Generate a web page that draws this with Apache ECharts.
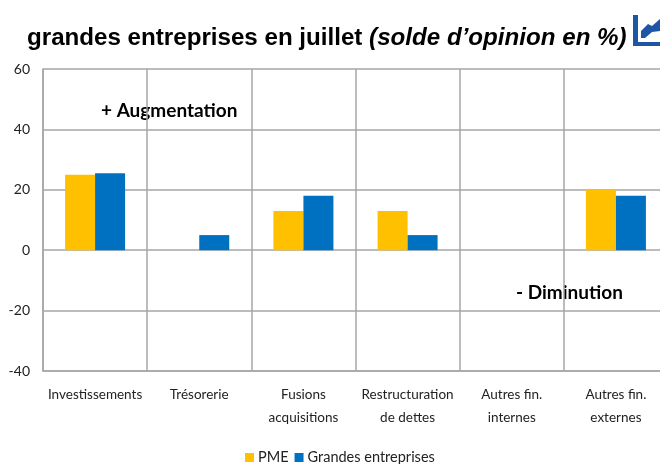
<!DOCTYPE html>
<html>
<head>
<meta charset="utf-8">
<style>html,body{margin:0;padding:0;background:#fff}#chart{width:660px;height:464px}</style>
<script src="https://cdn.jsdelivr.net/npm/echarts@6/dist/echarts.min.js"></script>
</head>
<body>
<div id="chart"></div>
<script>
// categories, series values, tick labels
var categories = ['Investissements', 'Trésorerie', 'Fusions\nacquisitions', 'Restructuration\nde dettes', 'Autres fin.\ninternes', 'Autres fin.\nexternes']
var pme = [25, 0, 13, 13, 0, 20]
var grandes = [25.5, 5, 18, 5, 0, 18]
var yTicks = [-40, -20, 0, 20, 40, 60]

var labelFont = 'Lato, sans-serif'
var gridLine = '#a6a6a6'
var iconBlue = '#1f55a5'

var chart = echarts.init(document.getElementById('chart'), null, { renderer: 'canvas' })

chart.setOption({
  animation: false,
  title: {
    text: 'grandes entreprises en juillet {i|(solde d’opinion en %)}',
    left: 22,
    top: 21,
    textStyle: {
      fontFamily: '"Liberation Sans"',
      fontSize: 24.15,
      fontWeight: 'bold',
      color: '#000',
      rich: { i: { fontFamily: '"Liberation Sans"', fontSize: 24.15, fontWeight: 'bold', fontStyle: 'italic', color: '#000' } }
    }
  },
  legend: {
    left: 240,
    top: 445,
    itemWidth: 9,
    itemHeight: 9,
    itemGap: 6,
    icon: 'rect',
    textStyle: { fontFamily: labelFont, fontSize: 14.5, color: '#222', padding: [0, 0, 0, -1] },
    data: ['PME', 'Grandes entreprises']
  },
  // last column runs past the right edge of the page, as in the reference
  grid: { left: 43, top: 69, width: 625, height: 302, outerBoundsMode: 'none' },
  xAxis: {
    type: 'category',
    data: categories,
    position: 'bottom',
    axisLine: { onZero: false, lineStyle: { color: gridLine, width: 1.5 } },
    axisTick: { show: false },
    axisLabel: { interval: 0, margin: 12, lineHeight: 23, fontFamily: labelFont, fontSize: 13.5, color: '#222' },
    splitLine: { show: true, interval: 0, lineStyle: { color: gridLine, width: 1.5 } }
  },
  yAxis: {
    type: 'value',
    min: yTicks[0],
    max: yTicks[yTicks.length - 1],
    interval: 20,
    axisLine: { show: true, lineStyle: { color: gridLine, width: 1.5 } },
    axisTick: { show: false },
    axisLabel: { margin: 13, fontFamily: labelFont, fontSize: 14, color: '#222' },
    splitLine: { show: true, lineStyle: { color: gridLine, width: 1.5 } }
  },
  series: [
    { name: 'PME', type: 'bar', data: pme, barWidth: 30, barGap: 0, itemStyle: { color: '#ffc000' } },
    { name: 'Grandes entreprises', type: 'bar', data: grandes, barWidth: 30, barGap: 0, itemStyle: { color: '#0070c0' } }
  ],
  graphic: [
    { type: 'text', left: 101, top: 101, style: { text: '+ Augmentation', fontFamily: labelFont, fontSize: 19, fontWeight: 'bold', fill: '#000' } },
    { type: 'text', left: 516, top: 283, style: { text: '- Diminution', fontFamily: labelFont, fontSize: 19, fontWeight: 'bold', fill: '#000' } },
    // small chart icon beside the title
    { type: 'rect', shape: { x: 633, y: 15, width: 5, height: 31 }, style: { fill: iconBlue } },
    { type: 'rect', shape: { x: 633, y: 42, width: 27, height: 4 }, style: { fill: iconBlue } },
    { type: 'polygon', shape: { points: [[641, 31], [648, 24], [652, 26], [660, 19], [660, 31], [652, 32], [645, 38], [641, 38]] }, style: { fill: iconBlue } }
  ]
})
</script>
</body>
</html>
